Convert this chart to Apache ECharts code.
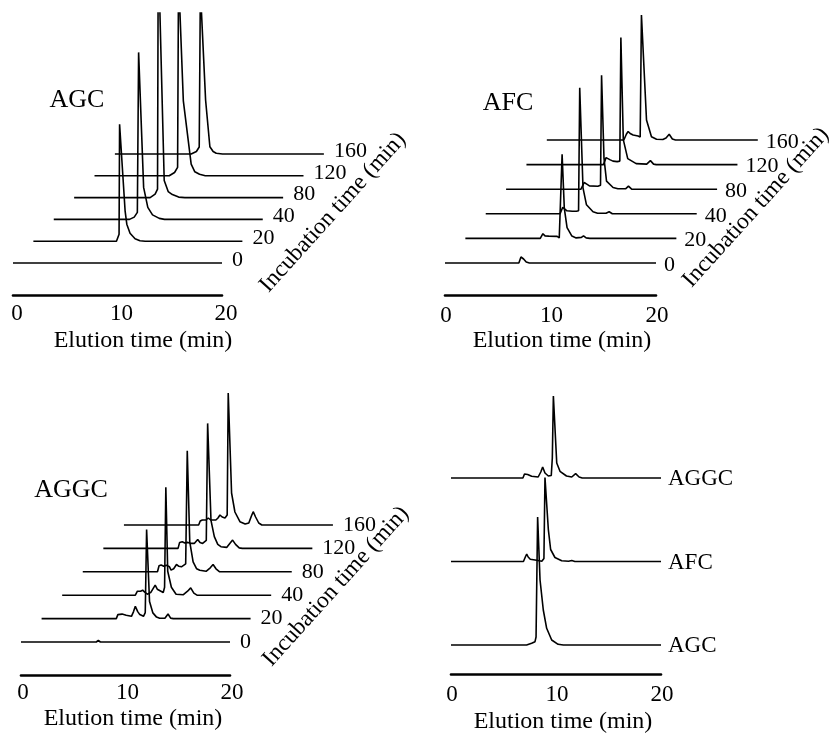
<!DOCTYPE html>
<html>
<head>
<meta charset="utf-8">
<script src="https://cdn.jsdelivr.net/npm/echarts@6/dist/echarts.min.js"></script>
<style>html,body{margin:0;padding:0;background:#fff}#c{width:833px;height:735px}</style>
</head>
<body>
<div id="c"></div>
<script>
// ---------- DATA (elution time in min, detector response in arbitrary units) ----------
const elutionTicks = [0, 10, 20];
const incubationLabels = ['0', '20', '40', '80', '120', '160'];
const compoundLabels = ['AGC', 'AFC', 'AGGC'];

// AGC incubation series
const agc0   = [[0,0],[20,0]];
const agc20  = [[0,0],[7.95,0],[8.1,2],[8.2,7],[8.25,117],[8.78,30],[8.94,17],[9.25,8],[9.73,2.5],[10.2,0.5],[10.7,0],[20,0]];
const agc40  = [[0,0],[7.25,0],[7.7,2.3],[8.0,7],[8.12,167],[8.6,32],[9.0,12],[9.45,4.5],[10.1,1],[10.6,0],[20,0]];
const agc80  = [[0,0],[7.27,0],[7.75,3.4],[7.98,8.4],[8.05,250],[8.62,17],[9.0,6],[9.4,3],[10.0,0.5],[10.6,0],[20,0]];
const agc120 = [[0,0],[7.15,0],[7.66,3.3],[7.95,8.5],[8.04,200],[8.5,75],[9.25,11.7],[9.6,4],[10.05,1.5],[10.6,0],[20,0]];
const agc160 = [[0,0],[7.3,0],[7.8,2.5],[8.07,7],[8.18,165],[8.68,54],[9.09,7.3],[9.4,2.5],[9.7,0.7],[10.3,0],[20,0]];

// AFC incubation series
const afc0   = [[0,0],[7.0,0],[7.2,6],[7.3,8],[7.45,4],[7.7,1],[8.0,0],[20,0]];
const afc20  = [[0,0],[7.1,0],[7.35,4.7],[7.55,2.5],[7.9,2.3],[8.7,2],[8.9,0.5],[9.05,2],[9.17,84],[9.38,30],[9.64,10.7],[10.1,2.3],[10.5,0.5],[11.0,1],[11.2,2.5],[11.45,0.5],[11.8,0],[20,0]];
const afc40  = [[0,0],[7.05,0],[7.3,6.5],[7.45,6],[7.7,3],[8.2,2.5],[8.6,2.5],[8.8,3],[8.91,126],[9.22,26],[9.55,9],[10.17,2],[10.6,0.5],[11.4,0.5],[11.7,2],[12.0,0],[20,0]];
const afc80  = [[0,0],[7.1,0],[7.4,6.7],[7.65,5],[7.9,3.3],[8.7,3],[8.95,4],[9.05,114],[9.28,31],[9.52,8],[10.14,1.7],[10.6,0.5],[11.35,0.5],[11.6,3],[11.9,0],[20,0]];
const afc120 = [[0,0],[7.3,0],[7.55,7],[7.7,8.3],[7.9,5],[8.2,3.5],[8.6,3],[8.85,3.5],[8.95,127],[9.18,25],[9.6,6],[10.4,1],[11.4,0.5],[11.75,4],[12.05,0.5],[12.3,0],[20,0]];
const afc160 = [[0,0],[7.3,0],[7.55,6],[7.71,8.5],[7.9,6.5],[8.18,5],[8.65,4],[8.85,3],[8.97,125],[9.45,20],[9.92,3.3],[10.4,0.7],[11.0,0.5],[11.3,2],[11.6,5.7],[11.9,1],[12.2,0],[20,0]];

// AGGC incubation series
const aggc0   = [[0,0],[7.2,0],[7.4,1.5],[7.6,0],[20,0]];
const aggc20  = [[0,0],[7.15,0],[7.3,4],[7.42,5.7],[7.7,4.5],[8.1,3.3],[8.6,2.3],[8.8,7],[8.97,12.3],[9.2,7],[9.4,4],[9.75,2.3],[9.92,6],[10.05,89],[10.33,17],[10.65,5.7],[11.0,1.5],[11.3,0.3],[11.8,0.3],[12.1,4.6],[12.35,0.5],[12.6,0],[20,0]];
const aggc40  = [[0,0],[7.0,0],[7.2,4],[7.35,5],[7.5,4],[7.7,5],[7.9,3],[8.15,1],[8.5,3],[8.9,10],[9.1,6],[9.28,4],[9.67,2.7],[9.8,8],[9.92,108],[10.1,24],[10.45,8],[10.9,1],[11.6,0.5],[12.0,4],[12.3,7.3],[12.6,2],[12.9,0],[20,0]];
const aggc80  = [[0,0],[7.15,0],[7.3,6],[7.5,6.7],[7.75,5.5],[8.0,6.5],[8.3,5],[8.45,1.7],[8.7,3],[8.97,7.3],[9.2,5.5],[9.44,5],[9.85,8],[10.0,121],[10.24,30],[10.56,10],[10.9,3],[11.2,1.5],[11.8,0.5],[12.2,4],[12.47,7.3],[12.75,3],[13.1,0],[20,0]];
const aggc120 = [[0,0],[7.15,0],[7.3,6],[7.55,6.7],[7.8,5.5],[8.1,6],[8.4,5],[8.7,5],[9.03,9],[9.25,6],[9.5,5],[9.85,8],[9.98,125],[10.3,28],[10.62,11.7],[10.95,4],[11.25,1.7],[11.8,1],[12.1,5],[12.37,8.3],[12.65,4],[13.0,0.5],[13.3,0],[20,0]];
const aggc160 = [[0,0],[7.15,0],[7.3,4],[7.5,5],[7.85,5],[8.07,7],[8.3,5],[8.8,5],[9.0,7],[9.19,10],[9.4,8],[9.67,7],[9.88,10],[9.98,132],[10.3,32],[10.62,13],[11.1,3.3],[11.6,1],[11.95,2],[12.2,9],[12.37,13.3],[12.6,8],[12.9,2],[13.2,0],[20,0]];

// Comparison of the three compounds
const cmpAGC  = [[0,0],[7.2,0],[7.68,1.7],[8.0,3.3],[8.1,8],[8.25,128],[8.48,65],[8.79,35],[9.11,16.7],[9.59,5],[10.2,0.7],[10.7,0],[20,0]];
const cmpAFC  = [[0,0],[6.9,0],[7.1,5],[7.21,7.3],[7.35,4.5],[7.55,2.3],[8.15,1.3],[8.65,0.3],[8.85,3],[8.95,84],[9.27,32],[9.49,12],[9.9,4],[10.54,0.7],[11.2,0.3],[11.5,1],[11.8,0],[20,0]];
const cmpAGGC = [[0,0],[6.85,0],[7.0,4],[7.14,5.7],[7.3,3.5],[7.68,1.7],[8.3,1],[8.55,6],[8.73,11],[8.95,5],[9.27,2],[9.55,2.5],[9.65,20],[9.75,82],[10.07,15],[10.38,6.7],[11.0,2],[11.5,1],[11.87,4.3],[12.2,1],[12.5,0],[20,0]];

const agcTraces  = [agc0, agc20, agc40, agc80, agc120, agc160];
const afcTraces  = [afc0, afc20, afc40, afc80, afc120, afc160];
const aggcTraces = [aggc0, aggc20, aggc40, aggc80, aggc120, aggc160];
const cmpTraces  = [cmpAGC, cmpAFC, cmpAGGC];

// ---------- LAYOUT ----------
const FONT = '"Liberation Serif", "Times New Roman", serif';
const panels = [
  {traces: agcTraces, labels: incubationLabels, x0: 13, sx: 10.45, y0: 263, top: 13, axisY: 295,
   dx: 1.95, dy: 21.8, title: 'AGC', titleX: 77, titleY: 100, nameX: 143, nameY: 341,
   incub: [264, 289], labelOffset: [2, -3], labelSize: 22, tickMargin: 7, tickShift: 4},
  {traces: afcTraces, labels: incubationLabels, x0: 445, sx: 10.55, y0: 263, top: 5, axisY: 295,
   dx: 1.93, dy: 24.6, title: 'AFC', titleX: 508, titleY: 103, nameX: 562, nameY: 341,
   incub: [687, 284], labelOffset: [0, 2], labelSize: 22, tickMargin: 9, tickShift: 1},
  {traces: aggcTraces, labels: incubationLabels, x0: 21, sx: 10.45, y0: 642, top: 380, axisY: 675,
   dx: 1.97, dy: 23.4, title: 'AGGC', titleX: 71, titleY: 490, nameX: 133, nameY: 719,
   incub: [267, 663], labelOffset: [2, 0], labelSize: 22, tickMargin: 6, tickShift: 2},
  {traces: cmpTraces, labels: compoundLabels, x0: 451, sx: 10.5, y0: 645, top: 380, axisY: 674,
   dx: 0, dy: 83.5, title: null, nameX: 563, nameY: 722,
   incub: null, labelOffset: [-1, 1], labelSize: 23, tickMargin: 9, tickShift: 1}
];

const grids = [], xAxes = [], yAxes = [], series = [], graphics = [];
panels.forEach((p) => {
  const g = grids.length;
  const xmin = -0.5, xmax = 31;
  grids.push({left: p.x0 + xmin * p.sx, top: p.top, width: (xmax - xmin) * p.sx,
              height: p.y0 + 5 - p.top, outerBoundsMode: 'none', containLabel: false});
  xAxes.push({gridIndex: g, type: 'value', min: xmin, max: xmax, show: false});
  yAxes.push({gridIndex: g, type: 'value', min: -5, max: p.y0 - p.top, show: false});

  grids.push({left: p.x0, top: p.axisY - 20, width: 20 * p.sx, height: 20,
              outerBoundsMode: 'none', containLabel: false});
  xAxes.push({
    gridIndex: g + 1, type: 'value', min: 0, max: 20, interval: 10,
    axisLine: {show: true, lineStyle: {color: '#000', width: 2.6}},
    axisTick: {show: false}, splitLine: {show: false},
    axisLabel: {show: true, customValues: elutionTicks, color: '#000', fontFamily: FONT, fontSize: 23,
                margin: p.tickMargin, padding: [0, 0, 0, 2 * p.tickShift]}
  });
  yAxes.push({gridIndex: g + 1, type: 'value', min: 0, max: 1, show: false});

  p.traces.forEach((tr, i) => {
    series.push({
      type: 'line', name: (p.title || 'cmp') + ' ' + p.labels[i],
      xAxisIndex: g, yAxisIndex: g,
      data: tr.map(([t, h]) => [t + i * p.dx, h + i * p.dy]),
      showSymbol: false, symbol: 'none', clip: true, silent: true, animation: false,
      lineStyle: {color: '#000', width: 1.6},
      endLabel: {show: true, formatter: p.labels[i], offset: p.labelOffset,
                 color: '#000', fontFamily: FONT, fontSize: p.labelSize}
    });
  });

  if (p.title) {
    graphics.push({type: 'text', x: p.titleX, y: p.titleY, silent: true,
      style: {text: p.title, font: '26px ' + FONT, fill: '#000', align: 'center', verticalAlign: 'middle'}});
  }
  graphics.push({type: 'text', x: p.nameX, y: p.nameY, silent: true,
    style: {text: 'Elution time (min)', font: '24px ' + FONT, fill: '#000', align: 'center', verticalAlign: 'middle'}});
  if (p.incub) {
    graphics.push({type: 'text', x: p.incub[0], y: p.incub[1], rotation: 48 * Math.PI / 180, silent: true,
      style: {text: 'Incubation time (min)', font: '23.5px ' + FONT, fill: '#000', align: 'left', verticalAlign: 'middle'}});
  }
});

const chart = echarts.init(document.getElementById('c'), null, {renderer: 'canvas'});
chart.setOption({
  backgroundColor: '#fff',
  animation: false,
  grid: grids, xAxis: xAxes, yAxis: yAxes, series: series,
  graphic: graphics
});
</script>
</body>
</html>
